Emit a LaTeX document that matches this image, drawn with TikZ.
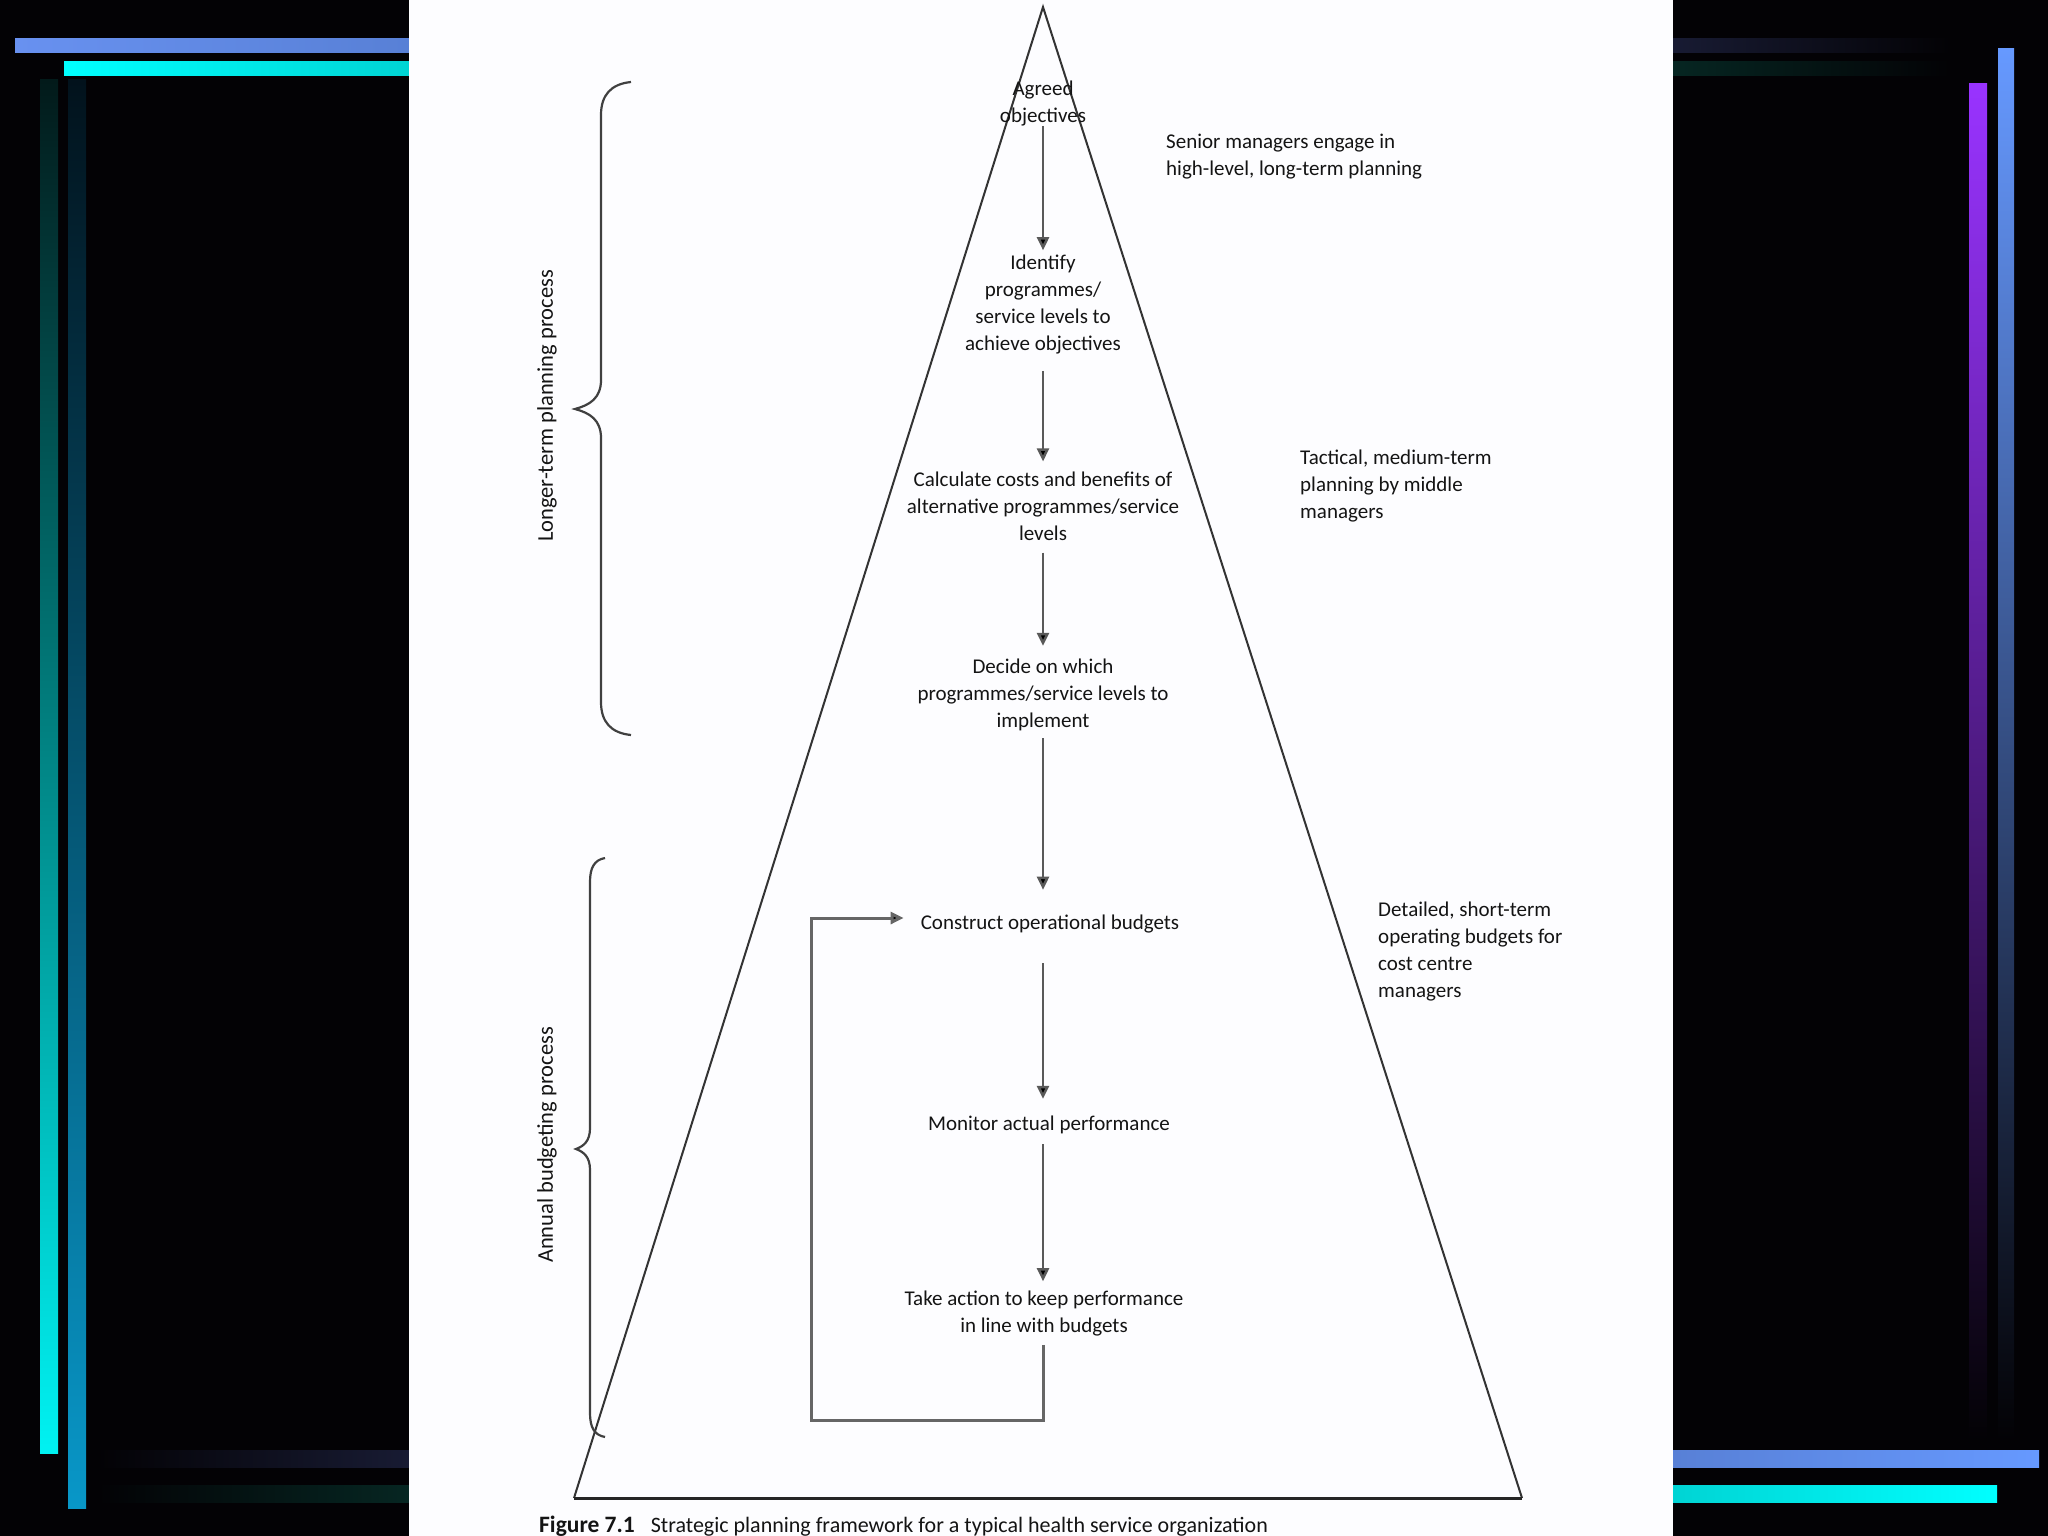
\documentclass[tikz,border=0pt]{standalone}
\usepackage{fontspec}
\setmainfont{Carlito}
\usetikzlibrary{arrows.meta}
\definecolor{bg}{HTML}{030205}
\definecolor{panel}{HTML}{FDFDFF}
\definecolor{blueA}{HTML}{6891F0}
\definecolor{blueB}{HTML}{5880D6}
\definecolor{blueC}{HTML}{6699FF}
\definecolor{cyanA}{HTML}{00FFFF}
\definecolor{cyanB}{HTML}{00D4D4}
\definecolor{navyD}{HTML}{181B33}
\definecolor{tealD}{HTML}{062622}
\definecolor{tealTop}{HTML}{021A1A}
\definecolor{blueTop}{HTML}{02121C}
\definecolor{cyanV}{HTML}{00F2F2}
\definecolor{blueV}{HTML}{0897C8}
\definecolor{purpleV}{HTML}{9933FF}
\definecolor{ink}{HTML}{141414}
\begin{document}
\begin{tikzpicture}[x=1pt,y=-1pt]
\tikzset{
  lbl/.style={font=\fontsize{21}{27}\selectfont, align=center, inner sep=2pt, text=ink},
  side/.style={font=\fontsize{21}{27}\selectfont, align=left, anchor=west, inner sep=0pt, text=ink},
  vlbl/.style={font=\fontsize{22.5}{27}\selectfont, rotate=90, inner sep=0pt, text=ink},
  arr/.style={draw=black!65, line width=2.5pt, -{Triangle[width=12pt,length=13pt,fill=black]}},
  loopline/.style={draw=black!60, line width=3pt, -{Triangle[width=12pt,length=13pt,fill=black]}},
  tri/.style={draw=black!80, line width=2pt},
  baseline/.style={draw=black!85, line width=3pt},
  bracestyle/.style={draw=black!75, line width=2.2pt},
}
% background
\useasboundingbox (0,0) rectangle (2048,1536);
\fill[bg] (0,0) rectangle (2048,1536);
% decorative bars
\shade[left color=blueA, right color=blueB] (15,39) rectangle (409,53);
\shade[left color=cyanA, right color=cyanB] (64,62) rectangle (409,76);
\shade[left color=navyD, right color=bg] (1673,39) rectangle (1950,53);
\shade[left color=tealD, right color=bg] (1673,62) rectangle (1950,76);
\shade[top color=tealTop, bottom color=cyanV] (40,80) rectangle (58,1453);
\shade[top color=blueTop, bottom color=blueV] (68,80) rectangle (86,1508);
\shade[left color=bg, right color=navyD] (97,1450) rectangle (409,1467);
\shade[left color=bg, right color=tealD] (97,1485) rectangle (409,1502);
\shade[top color=purpleV, bottom color=bg] (1969,84) rectangle (1987,1440);
\shade[top color=blueC, bottom color=bg] (1998,49) rectangle (2014,1440);
\shade[left color=blueB, right color=blueC] (1673,1450) rectangle (2039,1467);
\shade[left color=cyanB, right color=cyanA] (1673,1485) rectangle (1997,1502);
% white panel
\fill[panel] (409,0) rectangle (1673,1536);
% triangle
\coordinate (apex) at (1043,7);
\coordinate (bl) at (574,1498);
\coordinate (br) at (1522,1498);
\draw[tri] (bl) -- (apex) -- (br);
\draw[baseline] (bl) -- (br);
% braces
\draw[bracestyle] (631,82) .. controls (611,84) and (601,95) .. (601,115) -- (601,380)
  .. controls (601,398) and (590,405) .. (575,409)
  .. controls (590,413) and (601,420) .. (601,438) -- (601,702)
  .. controls (601,722) and (611,733) .. (631,735);
\draw[bracestyle] (605,858) .. controls (594,860) and (590,868) .. (590,882) -- (590,1128)
  .. controls (590,1141) and (584,1146) .. (576,1149)
  .. controls (584,1152) and (590,1157) .. (590,1170) -- (590,1413)
  .. controls (590,1427) and (594,1435) .. (605,1437);
\node[vlbl] (ltp) at (547,406) {Longer-term planning process};
\node[vlbl] (abp) at (547,1145) {Annual budgeting process};
% central steps
\coordinate (ax) at (1043,0);
\node[lbl] (agreed) at (1043,104) {Agreed\\objectives};
\node[lbl] (identify) at (1043,305) {Identify\\programmes/\\service levels to\\achieve objectives};
\node[lbl] (calc) at (1043,506) {Calculate costs and benefits of\\alternative programmes/service\\levels};
\node[lbl] (decide) at (1043,695) {Decide on which\\programmes/service levels to\\implement};
\node[lbl] (construct) at (1050,924) {Construct operational budgets};
\node[lbl] (monitor) at (1049,1125) {Monitor actual performance};
\node[lbl] (take) at (1044,1313) {Take action to keep performance\\in line with budgets};
% side notes
\node[side] (senior) at (1166,157) {Senior managers engage in\\high-level, long-term planning};
\node[side] (tactical) at (1300,486) {Tactical, medium-term\\planning by middle\\managers};
\node[side] (detailed) at (1378,952) {Detailed, short-term\\operating budgets for\\cost centre\\managers};
% arrows
\draw[arr, shorten <=-3pt, shorten >=3pt] (agreed.south -| ax) -- (identify.north -| ax);
\draw[arr, shorten <=14pt, shorten >=8pt] (identify.south -| ax) -- (calc.north -| ax);
\draw[arr, shorten <=10pt, shorten >=11pt] (calc.south -| ax) -- (decide.north -| ax);
\draw[arr, shorten <=5pt, shorten >=23pt] (decide.south -| ax) -- (construct.north -| ax);
\draw[arr, shorten <=28pt, shorten >=15pt] (construct.south -| ax) -- (monitor.north -| ax);
\draw[arr, shorten <=8pt, shorten >=7pt] (monitor.south -| ax) -- (take.north -| ax);
\coordinate (loopbl) at (811,1420);
\draw[loopline, shorten <=7pt, shorten >=15pt] (take.south -| ax) |- (loopbl) |- ([yshift=6pt]construct.west);
% caption
\node[anchor=base west, inner sep=0pt, font=\fontsize{22}{26}\selectfont, text=ink] (caption) at (539,1532)
  {{\fontsize{23.5}{26}\selectfont\bfseries Figure 7.1}\hspace{16pt}Strategic planning framework for a typical health service organization};
\end{tikzpicture}
\end{document}
